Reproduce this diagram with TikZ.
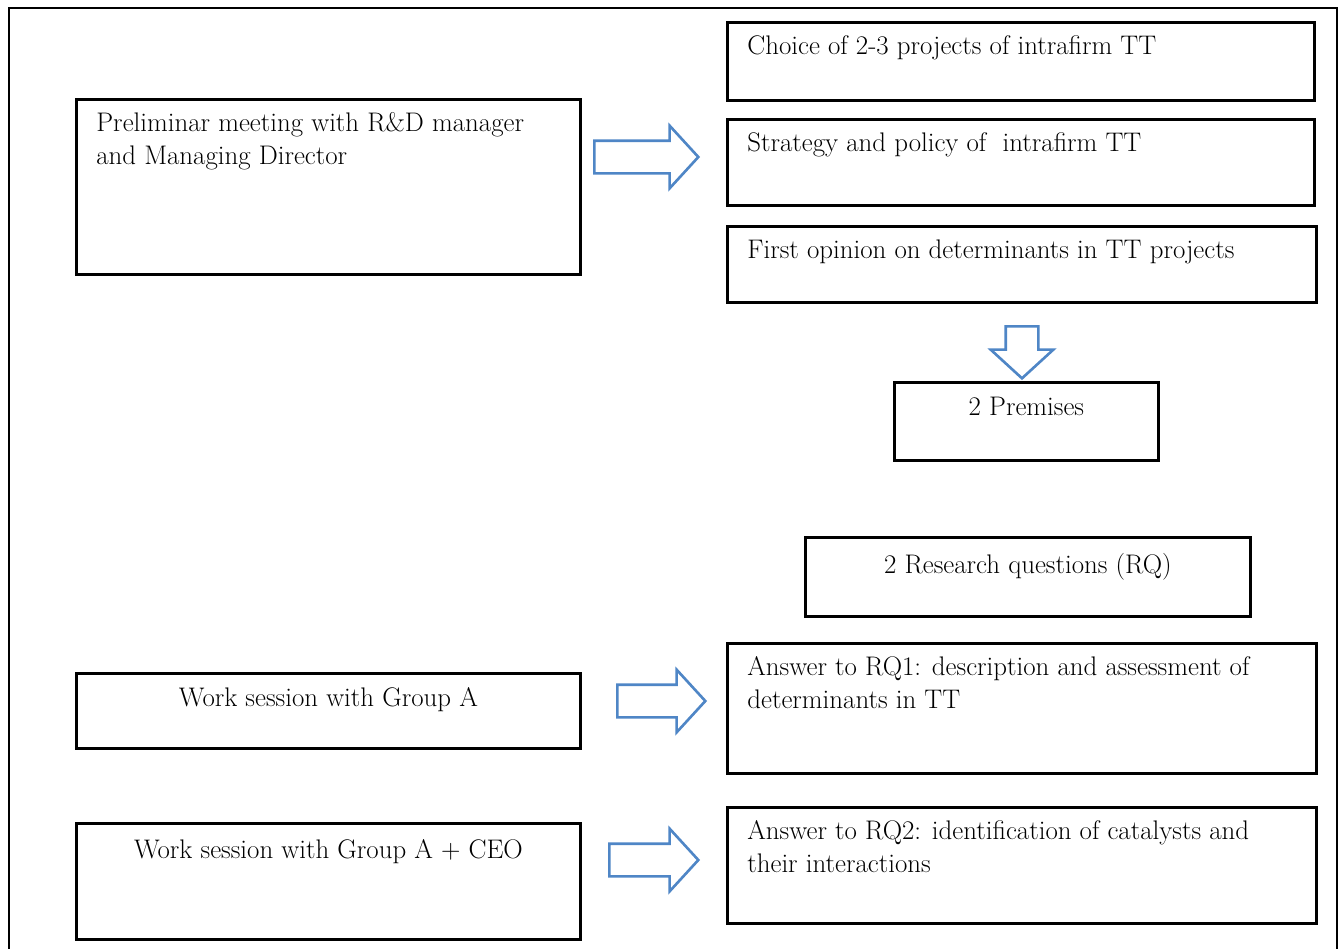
\documentclass[tikz,border=0pt]{standalone}
\usepackage{tikz}
\usetikzlibrary{positioning, shapes.arrows}

\definecolor{arrowblue}{RGB}{79,134,198}

\begin{document}
\begin{tikzpicture}[x=0.02cm,y=-0.02cm,
    box/.style={draw=black, line width=1.6pt, anchor=north west, inner sep=0pt},
    txt/.style={anchor=north west, inner sep=0pt, font=\fontsize{15.3}{18.7}\selectfont, align=left},
    ctxt/.style={anchor=north, inner sep=0pt, font=\fontsize{15.3}{18.7}\selectfont},
    bigarrow/.style={single arrow, draw=arrowblue, line width=1.5pt, fill=white,
        inner sep=0.3cm, single arrow head extend=0.3cm, single arrow tip angle=95}]
  \useasboundingbox (0,0) rectangle (1338,948);
  % frame
  \draw[line width=1.5pt] (9,960) -- (9,8) -- (1337,8) -- (1337,960);

  % left column
  \node[box, minimum width=504*0.02cm, minimum height=175*0.02cm] (pre) at (75,98) {};
  \node[txt] (pretxt) at ([shift={(21,14)}]pre.north west) {Preliminar meeting with R\&D manager\\and Managing Director};
  \node[box, minimum width=504*0.02cm, minimum height=75*0.02cm] (worka) at (75,672) {};
  \node[ctxt] (workatxt) at ([shift={(0,15)}]worka.north) {Work session with Group A};
  \node[box, minimum width=504*0.02cm, minimum height=116*0.02cm] (workc) at (75,822) {};
  \node[ctxt] (workctxt) at ([shift={(0,17)}]workc.north) {Work session with Group A + CEO};

  % right column
  \node[box, minimum width=587*0.02cm, minimum height=78*0.02cm] (choice) at (726,21) {};
  \node[txt] (choicetxt) at ([shift={(21,14)}]choice.north west) {Choice of 2-3 projects of intrafirm TT};
  \node[box, minimum width=587*0.02cm, minimum height=86*0.02cm] (strat) at (726,118) {};
  \node[txt] (strattxt) at ([shift={(21,14)}]strat.north west) {Strategy and policy of\ \ intrafirm TT};
  \node[box, minimum width=589*0.02cm, minimum height=76*0.02cm] (first) at (726,225) {};
  \node[txt] (firsttxt) at ([shift={(21,14)}]first.north west) {First opinion on determinants in TT projects};

  \node[box, minimum width=264*0.02cm, minimum height=78*0.02cm] (prem) at (893,381) {};
  \node[ctxt] (premtxt) at ([shift={(0,16)}]prem.north) {2 Premises};
  \node[box, minimum width=445*0.02cm, minimum height=79*0.02cm] (rq) at (804,536) {};
  \node[ctxt] (rqtxt) at ([shift={(0,17)}]rq.north) {2 Research questions (RQ)};

  \node[box, minimum width=589*0.02cm, minimum height=130*0.02cm] (ans1) at (726,642) {};
  \node[txt] (ans1txt) at ([shift={(21,14)}]ans1.north west) {Answer to RQ1: description and assessment of\\determinants in TT};
  \node[box, minimum width=589*0.02cm, minimum height=116*0.02cm] (ans2) at (726,806) {};
  \node[txt] (ans2txt) at ([shift={(21,14)}]ans2.north west) {Answer to RQ2: identification of catalysts and\\their interactions};

  % block arrows
  \node[bigarrow, minimum height=104*0.02cm, anchor=tail] (a1) at (593,157) {};
  \node[bigarrow, minimum height=52*0.02cm, anchor=tail, shape border rotate=270] (a2) at (1022,325) {};
  \node[bigarrow, minimum height=88*0.02cm, anchor=tail] (a3) at (616,701) {};
  \node[bigarrow, minimum height=89*0.02cm, anchor=tail] (a4) at (608,860) {};
\end{tikzpicture}
\end{document}
